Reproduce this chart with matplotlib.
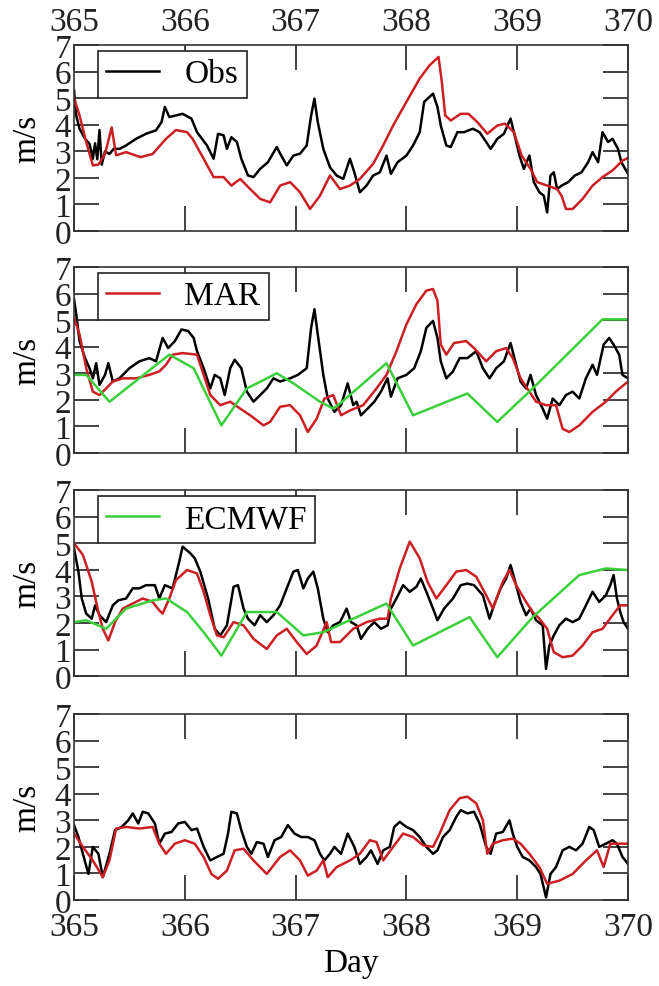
import matplotlib
matplotlib.use("Agg")
import matplotlib.pyplot as plt

# ---- data (day, m/s) ----
obs1_day = [365.0, 365.02, 365.05, 365.1, 365.14, 365.17, 365.19, 365.21, 365.23, 365.25, 365.28,
            365.32, 365.36, 365.41, 365.47, 365.56, 365.65, 365.74, 365.79, 365.82, 365.86, 365.92,
            365.98, 366.06, 366.11, 366.2, 366.26, 366.3, 366.35, 366.38, 366.42, 366.47, 366.51,
            366.57, 366.62, 366.68, 366.75, 366.83, 366.87, 366.92, 366.98, 367.04, 367.1, 367.14,
            367.17, 367.2, 367.25, 367.31, 367.37, 367.43, 367.49, 367.53, 367.58, 367.64, 367.7,
            367.76, 367.82, 367.86, 367.92, 368.0, 368.06, 368.12, 368.16, 368.24, 368.28, 368.31,
            368.36, 368.4, 368.46, 368.52, 368.6, 368.66, 368.72, 368.76, 368.82, 368.88, 368.94,
            368.97, 369.02, 369.06, 369.11, 369.15, 369.2, 369.24, 369.27, 369.3, 369.33, 369.36,
            369.4, 369.46, 369.52, 369.58, 369.64, 369.68, 369.73, 369.77, 369.82, 369.86, 369.91,
            369.94, 370.0]
obs1_val = [5.3, 4.35, 3.85, 3.47, 3.28, 2.72, 3.3, 2.7, 3.8, 2.5, 3.0,
            2.9, 3.1, 3.09, 3.22, 3.47, 3.66, 3.79, 4.1, 4.67, 4.29, 4.35,
            4.41, 4.23, 3.72, 3.22, 2.72, 3.66, 3.6, 3.09, 3.53, 3.35, 2.72,
            2.09, 2.03, 2.34, 2.59, 3.16, 2.84, 2.47, 2.84, 2.91, 3.22, 4.35,
            4.98, 4.1, 3.09, 2.4, 2.09, 1.96, 2.72, 2.21, 1.46, 1.71, 2.09,
            2.21, 2.84, 2.15, 2.59, 2.84, 3.22, 3.72, 4.86, 5.17, 4.67, 3.97,
            3.22, 3.16, 3.72, 3.72, 3.85, 3.72, 3.35, 3.09, 3.47, 3.66, 4.23,
            3.72, 2.84, 2.34, 2.84, 1.84, 1.46, 1.33, 0.7, 2.09, 2.21, 1.58,
            1.71, 1.84, 2.09, 2.21, 2.59, 2.97, 2.59, 3.72, 3.35, 3.47, 3.09,
            2.59, 2.15]

mar1_day = [365.0, 365.05, 365.11, 365.17, 365.22, 365.28, 365.34, 365.38, 365.47, 365.6, 365.71,
            365.83, 365.92, 366.02, 366.07, 366.17, 366.26, 366.35, 366.42, 366.5, 366.59, 366.68,
            366.77, 366.86, 366.95, 367.04, 367.13, 367.22, 367.31, 367.4, 367.49, 367.58, 367.7,
            367.79, 367.88, 368.0, 368.12, 368.21, 368.29, 368.32, 368.35, 368.4, 368.49, 368.56,
            368.64, 368.73, 368.82, 368.89, 368.97, 369.04, 369.12, 369.18, 369.27, 369.36, 369.4,
            369.44, 369.5, 369.59, 369.68, 369.77, 369.86, 369.95, 370.0]
mar1_val = [5.0, 4.35, 3.35, 2.47, 2.5, 2.9, 3.9, 2.85, 2.97, 2.78, 2.9,
            3.47, 3.8, 3.72, 3.47, 2.72, 2.03, 2.03, 1.71, 1.96, 1.58, 1.21,
            1.08, 1.71, 1.84, 1.46, 0.83, 1.33, 2.09, 1.58, 1.71, 1.96, 2.53,
            3.22, 3.97, 4.86, 5.74, 6.24, 6.55, 5.6, 4.35, 4.16, 4.41, 4.41,
            4.1, 3.66, 3.97, 4.04, 3.72, 2.84, 2.34, 1.84, 1.71, 1.58, 1.33,
            0.83, 0.83, 1.21, 1.71, 2.03, 2.28, 2.65, 2.75]

obs2_day = [365.0, 365.02, 365.05, 365.1, 365.14, 365.17, 365.2, 365.23, 365.28, 365.31, 365.35,
            365.41, 365.5, 365.59, 365.68, 365.74, 365.8, 365.85, 365.91, 365.97, 366.03, 366.08,
            366.11, 366.17, 366.23, 366.27, 366.32, 366.36, 366.41, 366.45, 366.51, 366.56, 366.62,
            366.68, 366.74, 366.8, 366.86, 366.95, 367.02, 367.1, 367.14, 367.17, 367.2, 367.25,
            367.29, 367.35, 367.41, 367.47, 367.52, 367.55, 367.59, 367.65, 367.71, 367.77, 367.83,
            367.86, 367.92, 368.0, 368.07, 368.13, 368.18, 368.24, 368.28, 368.31, 368.36, 368.42,
            368.48, 368.55, 368.63, 368.69, 368.75, 368.81, 368.88, 368.94, 368.99, 369.03, 369.08,
            369.12, 369.17, 369.23, 369.27, 369.32, 369.38, 369.44, 369.5, 369.56, 369.62, 369.68,
            369.72, 369.78, 369.83, 369.87, 369.92, 369.95, 370.0]
obs2_val = [5.79, 5.22, 4.21, 3.57, 3.19, 2.81, 3.38, 2.56, 2.94, 3.38, 2.69,
            2.81, 3.19, 3.45, 3.57, 3.45, 4.33, 3.95, 4.21, 4.65, 4.59, 4.33,
            3.83, 3.19, 2.43, 2.94, 2.81, 2.18, 3.19, 3.51, 3.19, 2.31, 1.93,
            2.18, 2.43, 2.81, 2.69, 2.81, 2.94, 3.19, 4.71, 5.41, 4.46, 2.94,
            2.05, 1.55, 1.8, 2.62, 1.8, 1.93, 1.42, 1.67, 1.93, 2.31, 2.81,
            2.12, 2.81, 2.94, 3.19, 3.83, 4.71, 4.97, 4.33, 3.45, 2.81, 3.07,
            3.57, 3.57, 3.83, 3.19, 2.81, 3.19, 3.45, 4.14, 3.32, 2.69, 2.43,
            2.94, 2.18, 1.67, 1.29, 2.05, 1.8, 2.18, 2.31, 2.05, 2.81, 3.32,
            2.94, 4.08, 4.33, 4.08, 3.7, 2.94, 2.81]

mar2_day = [365.0, 365.05, 365.11, 365.17, 365.23, 365.29, 365.35, 365.44, 365.56, 365.68, 365.77,
            365.83, 365.89, 365.98, 366.11, 366.17, 366.23, 366.32, 366.41, 366.5, 366.59, 366.71,
            366.77, 366.86, 366.95, 367.04, 367.11, 367.19, 367.26, 367.34, 367.41, 367.49, 367.61,
            367.73, 367.82, 367.91, 368.0, 368.09, 368.18, 368.24, 368.28, 368.31, 368.36, 368.43,
            368.54, 368.61, 368.72, 368.81, 368.9, 368.96, 369.03, 369.11, 369.17, 369.26, 369.35,
            369.41, 369.47, 369.56, 369.68, 369.8, 369.89, 370.0]
mar2_val = [5.1, 4.46, 3.19, 2.31, 2.18, 2.43, 2.69, 2.81, 2.81, 2.94, 3.07,
            3.32, 3.7, 3.76, 3.7, 2.94, 2.18, 1.8, 1.93, 1.67, 1.42, 1.04,
            1.17, 1.74, 1.8, 1.42, 0.79, 1.29, 2.05, 2.18, 1.42, 1.6, 1.8,
            2.43, 2.94, 3.83, 4.84, 5.6, 6.11, 6.17, 5.73, 4.08, 3.7, 4.14,
            4.21, 3.95, 3.45, 3.83, 3.95, 3.57, 2.81, 2.31, 1.93, 1.8, 1.8,
            0.91, 0.79, 1.04, 1.55, 1.93, 2.31, 2.69]

ecm2_day = [365.0, 365.11, 365.32, 365.86, 366.08, 366.33, 366.56, 366.83, 366.98, 367.22, 367.34,
            367.4, 367.82, 368.06, 368.55, 368.82, 369.14, 369.77, 370.0]
ecm2_val = [2.94, 2.94, 1.93, 3.7, 3.19, 1.04, 2.43, 3.0, 2.62, 1.93, 1.67,
            1.86, 3.38, 1.42, 2.24, 1.17, 2.43, 5.03, 5.03]

obs3_day = [365.0, 365.04, 365.07, 365.11, 365.16, 365.19, 365.23, 365.29, 365.35, 365.4, 365.47,
            365.53, 365.59, 365.65, 365.73, 365.77, 365.82, 365.89, 365.95, 365.98, 366.05, 366.09,
            366.14, 366.21, 366.27, 366.32, 366.38, 366.44, 366.48, 366.53, 366.57, 366.63, 366.68,
            366.74, 366.8, 366.86, 366.92, 366.98, 367.02, 367.07, 367.11, 367.16, 367.2, 367.25,
            367.29, 367.34, 367.4, 367.46, 367.5, 367.55, 367.59, 367.65, 367.71, 367.77, 367.83,
            367.86, 367.91, 367.97, 368.03, 368.09, 368.13, 368.18, 368.24, 368.28, 368.34, 368.42,
            368.49, 368.55, 368.61, 368.69, 368.75, 368.79, 368.85, 368.9, 368.94, 368.99, 369.03,
            369.08, 369.12, 369.17, 369.23, 369.26, 369.29, 369.33, 369.38, 369.44, 369.5, 369.56,
            369.62, 369.68, 369.74, 369.8, 369.84, 369.87, 369.9, 369.93, 369.96, 370.0]
obs3_val = [4.81, 3.93, 2.92, 2.35, 2.16, 2.66, 2.29, 2.03, 2.66, 2.85, 2.92,
            3.3, 3.3, 3.42, 3.42, 2.92, 3.42, 3.3, 4.31, 4.87, 4.62, 4.43,
            3.93, 2.92, 1.78, 1.53, 1.91, 3.36, 3.42, 2.54, 2.16, 1.91, 2.29,
            2.03, 2.29, 2.66, 3.3, 3.93, 3.99, 3.3, 3.67, 3.93, 3.3, 2.16,
            1.65, 1.91, 2.03, 2.54, 2.03, 1.91, 1.4, 1.78, 2.03, 1.78, 1.91,
            2.54, 2.92, 3.42, 3.17, 3.36, 3.67, 3.17, 2.54, 2.1, 2.54, 2.92,
            3.42, 3.48, 3.42, 3.04, 2.16, 2.66, 3.3, 3.67, 4.18, 3.42, 2.79,
            2.29, 2.54, 2.1, 1.91, 0.27, 1.15, 1.53, 1.91, 2.16, 2.03, 2.16,
            2.66, 3.17, 2.79, 3.04, 3.42, 3.8, 2.92, 2.41, 2.03, 1.78]

mar3_day = [365.0, 365.08, 365.16, 365.22, 365.26, 365.31, 365.37, 365.44, 365.53, 365.62, 365.71,
            365.77, 365.8, 365.86, 365.92, 366.02, 366.11, 366.17, 366.23, 366.29, 366.35, 366.44,
            366.53, 366.62, 366.74, 366.83, 366.92, 367.01, 367.1, 367.19, 367.28, 367.32, 367.4,
            367.52, 367.64, 367.76, 367.83, 367.86, 367.94, 368.03, 368.12, 368.19, 368.27, 368.36,
            368.45, 368.54, 368.63, 368.72, 368.78, 368.87, 368.93, 368.99, 369.08, 369.14, 369.2,
            369.27, 369.33, 369.41, 369.5, 369.59, 369.68, 369.77, 369.86, 369.93, 370.0]
mar3_val = [5.0, 4.56, 3.55, 2.41, 1.78, 1.34, 2.03, 2.54, 2.73, 2.92, 2.79,
            2.47, 2.35, 2.92, 3.61, 3.99, 3.86, 3.17, 2.29, 1.53, 1.46, 2.03,
            1.91, 1.4, 1.02, 1.53, 1.78, 1.28, 0.83, 1.15, 2.03, 1.28, 1.28,
            1.78, 2.03, 2.16, 2.16, 2.92, 4.05, 5.06, 4.43, 3.55, 2.92, 3.42,
            3.93, 3.99, 3.74, 3.04, 2.54, 3.55, 3.99, 3.42, 2.79, 2.41, 2.16,
            1.78, 0.9, 0.71, 0.77, 1.15, 1.65, 1.78, 2.29, 2.66, 2.66]

ecm3_day = [365.0, 365.11, 365.29, 365.47, 365.71, 365.83, 366.02, 366.17, 366.33, 366.56, 366.83,
            367.07, 367.25, 367.82, 368.06, 368.57, 368.82, 369.14, 369.56, 369.8, 370.0]
ecm3_val = [2.03, 2.1, 1.78, 2.54, 2.85, 2.92, 2.41, 1.65, 0.77, 2.41, 2.41,
            1.53, 1.65, 2.73, 1.15, 2.22, 0.71, 2.22, 3.8, 4.05, 3.99]

obs4_day = [365.0, 365.04, 365.08, 365.13, 365.17, 365.22, 365.26, 365.32, 365.37, 365.43, 365.49,
            365.53, 365.58, 365.62, 365.67, 365.73, 365.77, 365.82, 365.88, 365.94, 366.0, 366.06,
            366.11, 366.17, 366.23, 366.29, 366.35, 366.39, 366.42, 366.47, 366.51, 366.56, 366.6,
            366.65, 366.71, 366.75, 366.81, 366.87, 366.93, 366.99, 367.05, 367.11, 367.17, 367.22,
            367.26, 367.31, 367.35, 367.41, 367.47, 367.53, 367.58, 367.64, 367.68, 367.74, 367.79,
            367.85, 367.89, 367.94, 368.0, 368.06, 368.12, 368.18, 368.24, 368.28, 368.33, 368.39,
            368.45, 368.49, 368.55, 368.61, 368.66, 368.72, 368.76, 368.81, 368.87, 368.93, 368.96,
            369.0, 369.05, 369.11, 369.17, 369.21, 369.26, 369.3, 369.35, 369.41, 369.47, 369.53,
            369.59, 369.65, 369.69, 369.74, 369.8, 369.86, 369.9, 369.95, 370.0]
obs4_val = [2.82, 2.37, 1.74, 0.98, 2.0, 1.74, 0.86, 1.74, 2.63, 2.75, 3.0,
            3.26, 2.88, 3.32, 3.26, 2.88, 2.12, 2.5, 2.56, 2.88, 2.94, 2.63,
            2.69, 2.0, 1.49, 1.62, 1.74, 2.5, 3.32, 3.26, 2.63, 2.0, 1.74,
            2.18, 2.12, 1.62, 2.25, 2.37, 2.82, 2.5, 2.37, 2.37, 2.25, 1.74,
            1.49, 1.74, 2.0, 1.74, 2.5, 2.0, 1.36, 1.62, 1.87, 1.36, 1.87,
            2.0, 2.75, 2.94, 2.75, 2.63, 2.37, 2.0, 1.74, 1.87, 2.37, 2.63,
            3.13, 3.38, 3.26, 3.32, 2.88, 2.0, 1.74, 2.5, 2.56, 3.0, 2.5,
            2.0, 1.62, 1.49, 1.24, 0.98, 0.1, 0.98, 1.24, 1.87, 2.0, 1.87,
            2.12, 2.75, 2.63, 2.0, 2.12, 2.25, 2.12, 1.62, 1.36]

mar4_day = [365.0, 365.08, 365.17, 365.26, 365.32, 365.38, 365.47, 365.59, 365.71, 365.77, 365.83,
            365.91, 366.0, 366.09, 366.17, 366.24, 366.3, 366.38, 366.45, 366.53, 366.62, 366.74,
            366.86, 366.95, 367.04, 367.11, 367.19, 367.25, 367.29, 367.37, 367.49, 367.58, 367.67,
            367.73, 367.79, 367.88, 367.97, 368.06, 368.15, 368.24, 368.3, 368.39, 368.48, 368.55,
            368.63, 368.69, 368.73, 368.78, 368.87, 368.96, 369.03, 369.11, 369.2, 369.27, 369.38,
            369.5, 369.62, 369.72, 369.78, 369.84, 369.92, 370.0]
mar4_val = [2.5, 2.0, 1.49, 0.86, 1.49, 2.69, 2.75, 2.69, 2.75, 2.12, 1.74,
            2.12, 2.25, 2.12, 1.62, 0.98, 0.8, 1.11, 1.87, 1.93, 1.49, 0.98,
            1.62, 1.87, 1.49, 0.92, 1.11, 1.49, 0.86, 1.24, 1.49, 1.74, 2.25,
            2.18, 1.49, 2.0, 2.5, 2.37, 2.06, 2.0, 2.5, 3.38, 3.83, 3.89,
            3.64, 3.0, 1.74, 2.12, 2.25, 2.31, 2.12, 1.74, 1.24, 0.61, 0.73,
            0.98, 1.49, 1.87, 1.24, 2.12, 2.12, 2.12]

x_ticks = [365, 366, 367, 368, 369, 370]
y_ticks = [0, 1, 2, 3, 4, 5, 6, 7]

obs_color = "black"
mar_color = "#cc1f24"
ecm_color = "#3ccf3c"

plt.rcParams["font.family"] = "serif"
plt.rcParams["font.serif"] = ["Liberation Serif", "DejaVu Serif"]

fig = plt.figure(figsize=(6.59, 9.87), dpi=100)

# axes boxes in figure fraction (left, bottom, width, height)
left, width, height = 0.1123, 0.8407, 0.1885
bottoms = [0.7649, 0.5400, 0.3140, 0.0871]

panels = [
    [(obs1_day, obs1_val, obs_color, "Obs"), (mar1_day, mar1_val, mar_color, None)],
    [(obs2_day, obs2_val, obs_color, None), (mar2_day, mar2_val, mar_color, "MAR"),
     (ecm2_day, ecm2_val, ecm_color, None)],
    [(obs3_day, obs3_val, obs_color, None), (mar3_day, mar3_val, mar_color, None),
     (ecm3_day, ecm3_val, ecm_color, "ECMWF")],
    [(obs4_day, obs4_val, obs_color, None), (mar4_day, mar4_val, mar_color, None)],
]

for i, (b, series) in enumerate(zip(bottoms, panels)):
    ax = fig.add_axes([left, b, width, height])
    legend_handle = None
    for day, val, color, label in series:
        line, = ax.plot(day, val, color=color, lw=1.8, label=label)
        if label:
            legend_handle = line

    ax.set_xlim(365, 370)
    ax.set_ylim(0, 7)
    ax.set_xticks(x_ticks)
    ax.set_yticks(y_ticks)
    ax.tick_params(axis="both", which="major", direction="in", length=18, width=1.2,
                   top=True, right=True, labelsize=24, colors="#222222", pad=2)
    if i == 0:
        ax.tick_params(axis="x", labeltop=True, labelbottom=False, pad=6)
    elif i == 3:
        ax.tick_params(axis="x", pad=8)
        ax.set_xlabel("Day", fontsize=24, labelpad=4)
    else:
        ax.tick_params(axis="x", labelbottom=False)

    ax.set_ylabel("m/s", fontsize=24)
    ax.yaxis.set_label_coords(-0.057, 0.5)
    for s in ax.spines.values():
        s.set_linewidth(1.2)
        s.set_color("#333333")

    if legend_handle is not None:
        leg = ax.legend(handles=[legend_handle], loc="upper left", bbox_to_anchor=(0.043, 0.97),
                        borderaxespad=0, fontsize=24, fancybox=False, framealpha=1,
                        edgecolor="#222222", handlelength=1.6, handletextpad=0.75,
                        borderpad=0.25)
        leg.get_frame().set_linewidth(1.2)

fig.savefig("out.png", dpi=100)
